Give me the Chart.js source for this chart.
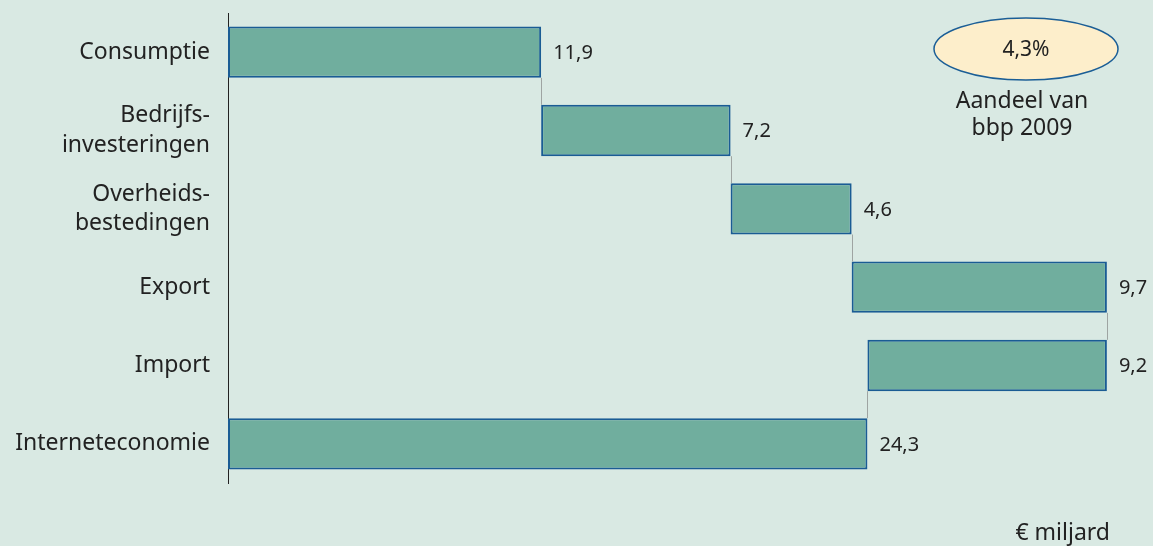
<!DOCTYPE html>
<html>
<head>
<meta charset="utf-8">
<script src="https://cdn.jsdelivr.net/npm/chart.js@4"></script>
<style>
  html, body { margin: 0; padding: 0; background: #d9e9e3; }
  #wrap { width: 1153px; height: 546px; }
</style>
</head>
<body>
<div id="wrap"><canvas id="myChart" width="1153" height="546"></canvas></div>
<script>
// categories and values (€ miljard)
const categories = [['Consumptie'], ['Bedrijfs-', 'investeringen'], ['Overheids-', 'bestedingen'], ['Export'], ['Import'], ['Interneteconomie']];
const steps = [11.9, 7.2, 4.6, 9.7, -9.2];
const total = 24.3;
const xTicks = [0, 35];
const share = '4,3%';

// waterfall ranges from the steps
let running = 0;
const ranges = [];
const joins = [];
steps.forEach(function (s, i) {
  let start = running;
  running = running + s;
  if (s < 0) {
    ranges.push([total, start]);
  } else {
    ranges.push([start, running]);
  }
  joins.push(s < 0 ? total : running);
});
ranges.push([0, total]);
const shown = steps.map(function (s) { return Math.abs(s); }).concat([total]);

const fontName = '"Noto Sans", sans-serif';

const extras = {
  id: 'extras',
  afterDatasetsDraw(chart) {
    const ctx = chart.ctx;
    const xs = chart.scales.x;
    const meta = chart.getDatasetMeta(0);
    ctx.save();
    // connector lines
    ctx.strokeStyle = '#9ea4a2';
    ctx.lineWidth = 1;
    for (let i = 0; i < joins.length; i++) {
      const a = meta.data[i], b = meta.data[i + 1];
      const x = Math.round(xs.getPixelForValue(joins[i])) + 0.5;
      ctx.beginPath();
      ctx.moveTo(x, a.y + a.height / 2);
      ctx.lineTo(x, b.y - b.height / 2);
      ctx.stroke();
    }
    // value labels
    ctx.fillStyle = '#222';
    ctx.font = '20px ' + fontName;
    ctx.textBaseline = 'middle';
    ctx.textAlign = 'left';
    meta.data.forEach(function (bar, i) {
      const x = xs.getPixelForValue(Math.max(ranges[i][0], ranges[i][1]));
      ctx.fillText(shown[i].toFixed(1).replace('.', ','), x + 12, bar.y + 1);
    });
    // share ellipse
    ctx.beginPath();
    ctx.ellipse(1026, 49, 92, 31, 0, 0, Math.PI * 2);
    ctx.fillStyle = '#fdeecb';
    ctx.fill();
    ctx.strokeStyle = '#1b5e96';
    ctx.lineWidth = 1.5;
    ctx.stroke();
    ctx.fillStyle = '#222';
    ctx.textAlign = 'center';
    ctx.font = '21px ' + fontName;
    ctx.fillText(share, 1026, 50);
    ctx.font = '23px ' + fontName;
    ctx.fillText('Aandeel van', 1022, 101);
    ctx.fillText('bbp 2009', 1022, 128);
    ctx.textAlign = 'right';
    ctx.fillText('€ miljard', 1110, 533);
    ctx.restore();
  }
};

new Chart(document.getElementById('myChart'), {
  type: 'bar',
  data: {
    labels: categories,
    datasets: [{
      data: ranges,
      backgroundColor: '#70ae9e',
      borderColor: '#1a5c94',
      borderWidth: 2,
      borderSkipped: false,
      barPercentage: 0.82,
      categoryPercentage: 0.8
    }]
  },
  options: {
    indexAxis: 'y',
    responsive: false,
    animation: false,
    layout: { padding: { top: 13, right: 4, bottom: 63, left: 0 } },
    plugins: { legend: { display: false }, tooltip: { enabled: false } },
    scales: {
      x: {
        display: false,
        min: xTicks[0],
        max: xTicks[1]
      },
      y: {
        grid: { display: false },
        border: { display: true, color: '#222', width: 1 },
        afterFit: function (scale) {
          scale.width = 228;
          scale.paddingTop = 0;
          scale.paddingBottom = 0;
        },
        ticks: {
          padding: 10,
          color: '#222',
          font: { family: fontName, size: 23, lineHeight: 1.27 }
        }
      }
    }
  },
  plugins: [extras]
});
</script>
</body>
</html>
